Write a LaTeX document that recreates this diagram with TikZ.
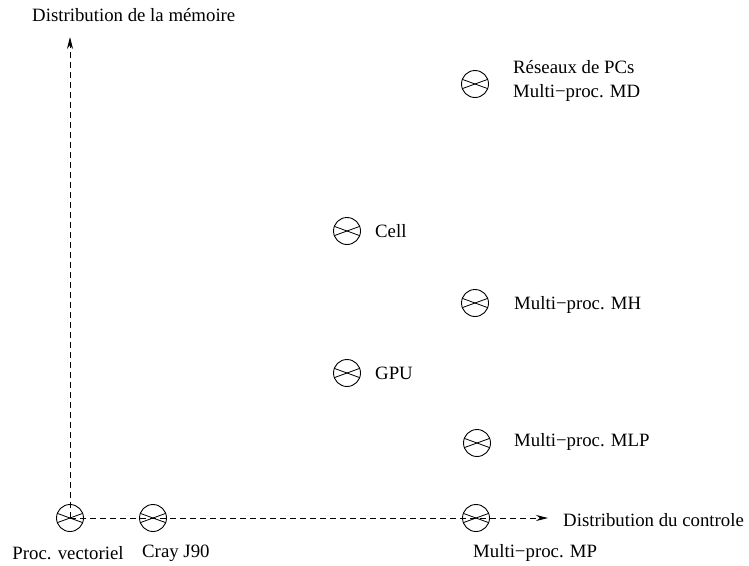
\documentclass[tikz,border=0pt]{standalone}
\usepackage{fontspec}
\setmainfont{Liberation Serif}
\usetikzlibrary{arrows.meta}
\tikzset{
  xcirc/.style={circle,draw,line width=0.9pt,minimum size=27pt,inner sep=0pt,
    path picture={
      \draw[line width=0.8pt] (path picture bounding box.center) ++(160:13.5pt) -- ++(-20:27pt);
      \draw[line width=0.8pt] (path picture bounding box.center) ++(200:13.5pt) -- ++(20:27pt);
    }},
  lbl/.style={font=\fontsize{18.8}{22}\selectfont,inner sep=0pt},
  axis/.style={line width=0.9pt,dash pattern=on 6pt off 4pt,-{Stealth[length=12pt,width=6pt]}}
}
\begin{document}
\begin{tikzpicture}[x=1pt,y=-1pt]
\useasboundingbox (0,0) rectangle (749,565);
\coordinate (ytip) at (70,37);
\coordinate (xtip) at (548,518);
\node[xcirc] (pv) at (70,518) {};
\node[xcirc] (cray) at (153,518) {};
\node[xcirc] (mp) at (476,518) {};
\node[xcirc] (res) at (475,84) {};
\node[xcirc] (cell) at (347,231) {};
\node[xcirc] (gpu) at (347,373) {};
\node[xcirc] (mh) at (475,303) {};
\node[xcirc] (mlp) at (477,443) {};
\draw[axis] (pv.center) -- (ytip);
\draw[axis] (pv.center) -- (xtip);
\node[lbl,anchor=west] (ty) at (32,15) {Distribution de la mémoire};
\node[lbl,anchor=west] (tx) at (563,520) {Distribution du controle};
\node[lbl] (lpv) at (68,553) {Proc. vectoriel};
\node[lbl,anchor=west] (lcray) at (142,553) {Cray J90};
\node[lbl,anchor=west] (lmp) at (473,553) {Multi−proc. MP};
\node[lbl,anchor=west] (lres1) at (513,67) {Réseaux de PCs};
\node[lbl,anchor=west] (lres2) at (513,93) {Multi−proc. MD};
\node[lbl,anchor=west] (lcell) at (375,231) {Cell};
\node[lbl,anchor=west] (lgpu) at (375,373) {GPU};
\node[lbl,anchor=west] (lmh) at (514,305) {Multi−proc. MH};
\node[lbl,anchor=west] (lmlp) at (514,442) {Multi−proc. MLP};
\end{tikzpicture}
\end{document}
